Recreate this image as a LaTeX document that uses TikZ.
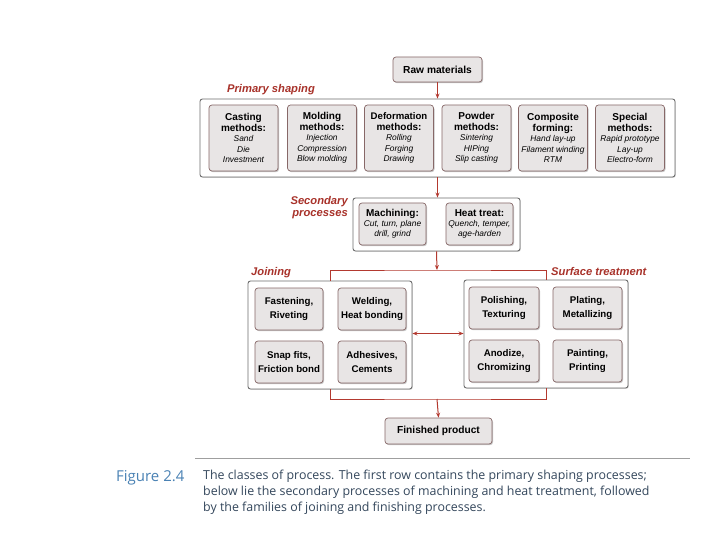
\documentclass[tikz,border=0pt]{standalone}
\usepackage{fontspec}
\setmainfont{Liberation Sans}
\newfontfamily\capfont{Open Sans}
\usetikzlibrary{shadows,arrows.meta,calc}
\definecolor{redline}{HTML}{B3392F}
\definecolor{labred}{HTML}{A8322A}
\definecolor{boxfill}{HTML}{E8E5E5}
\definecolor{boxdraw}{HTML}{876868}
\definecolor{outerdraw}{HTML}{6E6E6E}
\definecolor{capblue}{HTML}{4A82B4}
\definecolor{captext}{HTML}{34475C}
\newcommand{\HdTxt}[1]{{\fontsize{10}{10.5}\selectfont\bfseries #1}}
\newcommand{\ItTxt}[1]{{\fontsize{8.4}{10.5}\selectfont\itshape #1}}
\begin{document}
\begin{tikzpicture}[x=1pt,y=-1pt,
  inbox/.style={draw=boxdraw, fill=boxfill, rounded corners=3pt, line width=0.7pt,
    inner sep=0pt, align=center, font=\fontsize{8.4}{10.5}\selectfont,
    drop shadow={shadow xshift=1pt,shadow yshift=-1.2pt,opacity=0.45}},
  primbox/.style={inbox, minimum width=69pt, minimum height=66pt},
  secbox/.style={inbox, minimum width=67pt, minimum height=42pt, font=\fontsize{8.4}{9.8}\selectfont},
  famtxt/.style={inbox, minimum width=69pt, minimum height=42pt, font=\fontsize{9.7}{14}\selectfont\bfseries},
  outer/.style={draw=outerdraw, fill=white, rounded corners=2.5pt, line width=0.9pt, inner sep=0pt,
    drop shadow={shadow xshift=0.8pt,shadow yshift=-0.8pt,opacity=0.3}},
  endbox/.style={inbox, font=\fontsize{10.2}{12}\selectfont\bfseries},
  grouplab/.style={text=labred, font=\fontsize{11.2}{11.5}\selectfont\bfseries\itshape, inner sep=0pt, align=right},
  conn/.style={draw=redline, line width=1pt},
  arr/.style={conn, -{Stealth[length=5pt,width=4pt]}},
]
\fill[white] (0,0) rectangle (720,540);
\useasboundingbox (0,0) rectangle (720,540);

% top
\node[endbox, minimum width=89pt, minimum height=25pt] (raw) at (437.5,69.5) {Raw materials};

% primary shaping
\node[outer, minimum width=475pt, minimum height=78pt] (primary) at (437.5,138) {};
\node[grouplab] (primlab) at (271,90) {Primary shaping};
\node[primbox] (cast) at (243.5,138) {\HdTxt{Casting}\\\HdTxt{methods:}\\\ItTxt{Sand}\\\ItTxt{Die}\\\ItTxt{Investment}};
\node[primbox] (mold) at (322,138) {\HdTxt{Molding}\\\HdTxt{methods:}\\\ItTxt{Injection}\\\ItTxt{Compression}\\\ItTxt{Blow molding}};
\node[primbox] (deform) at (399,138) {{\fontsize{9.6}{10.5}\selectfont\bfseries Deformation}\\\HdTxt{methods:}\\\ItTxt{Rolling}\\\ItTxt{Forging}\\\ItTxt{Drawing}};
\node[primbox] (powder) at (476.5,138) {\HdTxt{Powder}\\\HdTxt{methods:}\\\ItTxt{Sintering}\\\ItTxt{HIPing}\\\ItTxt{Slip casting}};
\node[primbox] (compo) at (553,138) {\HdTxt{Composite}\\\HdTxt{forming:}\\\ItTxt{Hand lay-up}\\\ItTxt{Filament winding}\\\ItTxt{RTM}};
\node[primbox] (special) at (630,138) {\HdTxt{Special}\\\HdTxt{methods:}\\\ItTxt{Rapid prototype}\\\ItTxt{Lay-up}\\\ItTxt{Electro-form}};

% secondary
\node[outer, minimum width=167pt, minimum height=53pt] (secondary) at (436.5,224.5) {};
\node[grouplab, anchor=east] (seclab) at (348,207.5) {Secondary\\processes};
\node[secbox] (mach) at (392.5,224) {\HdTxt{Machining:}\\\ItTxt{Cut, turn, plane}\\\ItTxt{drill, grind}};
\node[secbox] (heat) at (479.5,224) {\HdTxt{Heat treat:}\\\ItTxt{Quench, temper,}\\\ItTxt{age-harden}};

% joining
\node[outer, minimum width=164pt, minimum height=108pt] (joining) at (330,335) {};
\node[grouplab, anchor=west] (joinlab) at (251,273) {Joining};
\node[famtxt, minimum width=68pt] (fasten) at (289,309) {Fastening,\\Riveting};
\node[famtxt, minimum width=68pt] (weld) at (372,309) {Welding,\\Heat bonding};
\node[famtxt, minimum width=68pt] (snap) at (289,362) {Snap fits,\\Friction bond};
\node[famtxt, minimum width=68pt] (adhes) at (372,362) {Adhesives,\\Cements};

% surface treatment
\node[outer, minimum width=164pt, minimum height=108pt] (surface) at (546,334) {};
\node[grouplab, anchor=west] (surflab) at (551,271) {Surface treatment};
\node[famtxt, minimum width=70pt] (polish) at (504,308) {Polishing,\\Texturing};
\node[famtxt] (plate) at (587.5,308) {Plating,\\Metallizing};
\node[famtxt, minimum width=70pt] (anod) at (504,361) {Anodize,\\Chromizing};
\node[famtxt] (paint) at (587.5,361) {Painting,\\Printing};

% finished
\node[endbox, minimum width=107pt, minimum height=26pt] (finished) at (438.5,431) {Finished product};

% connectors
\coordinate (split) at (437,270);
\coordinate (merge) at (437,399);
\draw[arr] (raw.south) -- (primary.north);
\draw[arr] (primary.south) -- (primary.south |- secondary.north);
\draw[arr] (secondary.south) -- (split);
\draw[conn] (joining.north) |- (split) -| (surface.north);
\draw[conn] (joining.south) |- (merge) -| (surface.south);
\draw[arr] (merge) -- (finished.north);
\draw[conn, {Stealth[length=5pt,width=4pt]}-{Stealth[length=5pt,width=4pt]}] ($(joining.east)+(0,-1.5)$) -- ($(joining.east -| surface.west)+(0,-1.5)$);

% caption
\draw[draw=gray!75, line width=0.7pt] (195,458) -- (690,458);
\node[anchor=west, inner sep=0pt, text=capblue, font=\capfont\fontsize{15}{16}\selectfont] (figlab) at (116,478) {Figure 2.4};
\node[anchor=north west, inner sep=0pt, text=captext, align=left, font=\capfont\fontsize{12.4}{16}\selectfont] (captxt) at (203,470) {The classes of process. The first row contains the primary shaping processes;\\below lie the secondary processes of machining and heat treatment, followed\\by the families of joining and finishing processes.};
\end{tikzpicture}
\end{document}
